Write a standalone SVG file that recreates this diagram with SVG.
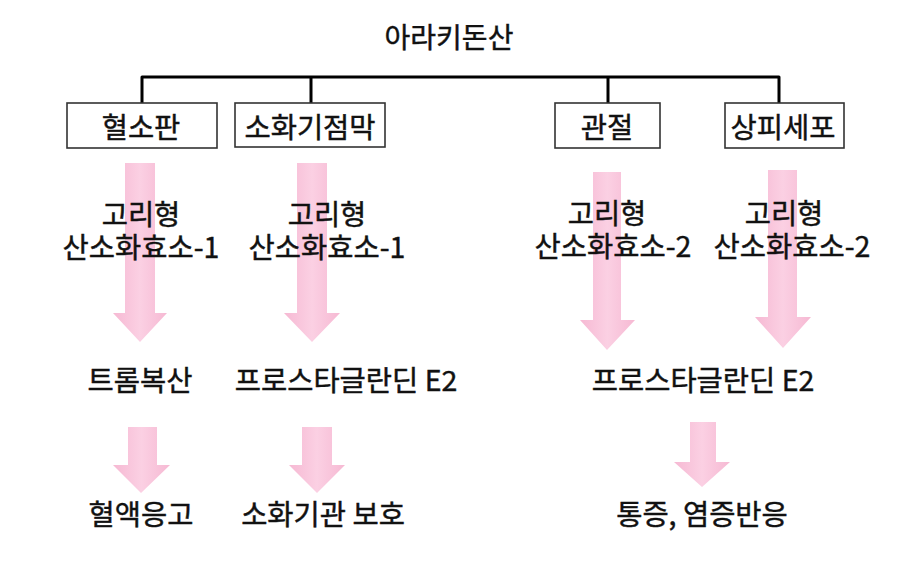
<svg xmlns="http://www.w3.org/2000/svg" width="913" height="583" viewBox="0 0 913 583">
<style>
  .t { font-family: "Noto Sans CJK KR", "Noto Sans", sans-serif; font-size: 28.5px; fill: #111; stroke: #111; stroke-width: 0.45; text-anchor: middle; }
  .box { fill: #fff; stroke: #333; stroke-width: 1.6; }
  .conn { fill: none; stroke: #000; stroke-width: 3; stroke-linejoin: round; }
  .arrow { fill: url(#pink); }
</style>
<defs>
  <linearGradient id="pink" x1="0" y1="0" x2="1" y2="0">
    <stop offset="0" stop-color="#f6b9d3"/>
    <stop offset="0.5" stop-color="#fbd0e3"/>
    <stop offset="1" stop-color="#f6b9d3"/>
  </linearGradient>
</defs>
<rect width="913" height="583" fill="#fff"/>

<g id="connectors">
  <path class="conn" d="M142,104 V77 H779 V104"/>
  <line class="conn" x1="311" y1="77" x2="311" y2="104"/>
  <line class="conn" x1="608" y1="77" x2="608" y2="104"/>
  <polygon class="arrow" points="125,163 155,163 155,313 167,313 140,342 113,313 125,313"/>
  <polygon class="arrow" points="297,163 327,163 327,313 340,313 312,342 284,313 297,313"/>
  <polygon class="arrow" points="593,172 621,172 621,320 635,320 607,350 580,320 593,320"/>
  <polygon class="arrow" points="768,170 797,170 797,317 811,317 783,348 755,317 768,317"/>
  <polygon class="arrow" points="128,427 157,427 157,465 170,465 141,493 113,465 128,465"/>
  <polygon class="arrow" points="302,427 332,427 332,465 345,465 317,493 289,465 302,465"/>
  <polygon class="arrow" points="690,422 716,422 716,462 730,462 702,487 674,462 690,462"/>
</g>

<g id="title"><text class="t" x="449" y="48" style="font-size:28px">아라키돈산</text></g>

<g id="node-platelet">
  <rect class="box" x="67" y="103" width="150" height="45"/>
  <text class="t" x="141" y="138">혈소판</text>
</g>
<g id="node-gi">
  <rect class="box" x="235" y="103" width="150" height="44"/>
  <text class="t" x="310" y="138">소화기점막</text>
</g>
<g id="node-joint">
  <rect class="box" x="555" y="103" width="105" height="45"/>
  <text class="t" x="607" y="138">관절</text>
</g>
<g id="node-epi">
  <rect class="box" x="725" y="103" width="119" height="45"/>
  <text class="t" x="783" y="138">상피세포</text>
</g>

<g id="cox-labels">
  <text class="t" x="141" y="225">고리형</text>
  <text class="t" x="141" y="258">산소화효소-1</text>
  <text class="t" x="327" y="225">고리형</text>
  <text class="t" x="327" y="258">산소화효소-1</text>
  <text class="t" x="607" y="224">고리형</text>
  <text class="t" x="613" y="257">산소화효소-2</text>
  <text class="t" x="784" y="224">고리형</text>
  <text class="t" x="792" y="257">산소화효소-2</text>
</g>

<g id="products">
  <text class="t" x="140" y="391">트롬복산</text>
  <text class="t" x="346" y="391">프로스타글란딘 E2</text>
  <text class="t" x="703" y="391">프로스타글란딘 E2</text>
</g>

<g id="effects">
  <text class="t" x="141" y="525">혈액응고</text>
  <text class="t" x="323" y="525">소화기관 보호</text>
  <text class="t" x="702" y="525">통증, 염증반응</text>
</g>
</svg>
